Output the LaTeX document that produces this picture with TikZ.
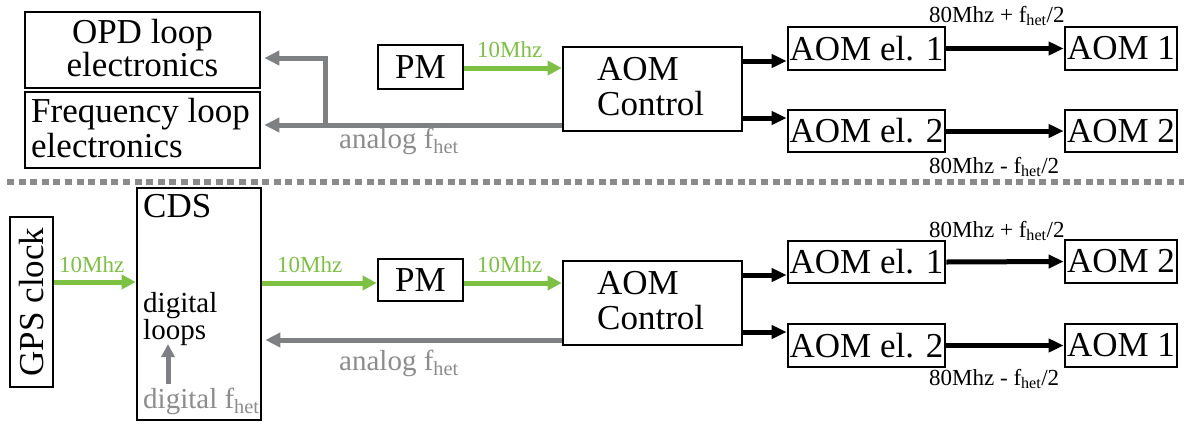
\documentclass[tikz,border=0pt]{standalone}
\usepackage{fontspec}
\setmainfont{Liberation Serif}
\usetikzlibrary{arrows.meta,calc}
\definecolor{agreen}{HTML}{7DC142}
\definecolor{agray}{HTML}{7F8084}
\definecolor{tgray}{HTML}{8C8C8C}
\definecolor{dgray}{HTML}{8A8A8A}
\begin{document}
\begin{tikzpicture}[x=1pt,y=-1pt,
  box/.style={draw=black, line width=2.6pt, inner sep=0pt, font=\fontsize{35}{34}\selectfont},
  big/.style={font=\fontsize{35}{34}\selectfont, inner sep=0pt},
  mid/.style={font=\fontsize{29}{25}\selectfont, inner sep=0pt},
  lbl/.style={font=\fontsize{23}{24}\selectfont, inner sep=0pt},
  garrow/.style={draw=agreen, line width=5pt, -{Triangle[length=14pt,width=14pt]}},
  gyarrow/.style={draw=agray, line width=5pt, -{Triangle[length=15pt,width=14pt]}},
  barrow/.style={draw=black, line width=5pt, -{Triangle[length=15pt,width=13pt]}},
]
\useasboundingbox (0,0) rectangle (1184,424);

% ---------- top half ----------
\node[box, minimum width=235pt, minimum height=76pt] (opd) at (142.5,50) {};
\node[big, anchor=base] (opdt1) at (142.5,43) {OPD loop};
\node[big, anchor=base] (opdt2) at (142.5,76) {electronics};
\node[box, minimum width=235pt, minimum height=76pt] (freq) at (142.5,130) {};
\node[big, anchor=base west] (freqt1) at (31,122) {Frequency loop};
\node[big, anchor=base west] (freqt2) at (31,157) {electronics};

\node[box, minimum width=85pt, minimum height=44pt] (pm1) at (420.5,67) {PM};
\node[box, minimum width=179pt, minimum height=84pt] (aomc1) at (652.5,89) {};
\node[big, anchor=base west] (aomc1a) at (597,80) {AOM};
\node[big, anchor=base west] (aomc1b) at (597,115) {Control};

\node[box, minimum width=157pt, minimum height=43pt] (ae11) at (866.5,48.5) {AOM el. 1};
\node[box, minimum width=157pt, minimum height=42pt] (ae21) at (866.5,131) {AOM el. 2};
\node[box, minimum width=112pt, minimum height=43pt] (aom11) at (1121,48.5) {AOM 1};
\node[box, minimum width=112pt, minimum height=42pt] (aom21) at (1121,131) {AOM 2};

\draw[garrow] (pm1.east |- 0,68) -- (aomc1.west |- 0,68);
\node[lbl, text=agreen, anchor=base west] (l10a) at (477,57) {10Mhz};

\coordinate (b1) at (325,125);
\coordinate (b2) at (325,58);
\draw[gyarrow, shorten >=3pt] (aomc1.west |- b1) -- (freq.east |- b1);
\draw[gyarrow, shorten >=3pt, line join=miter] (b1) -- (b2) -- (opd.east |- b2);
\node[mid, text=tgray, anchor=base west] (an1) at (339,148) {analog f\textsubscript{het}};

\draw[barrow] (aomc1.east |- 0,61) -- (ae11.west |- 0,61);
\draw[barrow] (aomc1.east |- 0,118) -- (ae21.west |- 0,118);
\draw[barrow] (ae11.east) -- (aom11.west);
\draw[barrow] (ae21.east) -- (aom21.west);
\node[lbl, anchor=base west] (fp1) at (929,22) {80Mhz + f\textsubscript{het}/2};
\node[lbl, anchor=base west] (fm1) at (929,173) {80Mhz - f\textsubscript{het}/2};

% ---------- separator ----------
\coordinate (dl) at (7,182);
\coordinate (dr) at (1184,182);
\draw[dgray, line width=6pt, dash pattern=on 7pt off 4.6pt] (dl) -- (dr);

% ---------- bottom half ----------
\node[box, minimum width=43pt, minimum height=170pt] (gps) at (31.5,302) {};
\node[big, rotate=90] (gpst) at (32,302) {GPS clock};
\node[box, minimum width=124pt, minimum height=232pt] (cds) at (199,304) {};
\node[big, anchor=base west] (cdst) at (143,217) {CDS};
\node[mid, align=left, anchor=north west] (dlp) at (143,292) {digital\\loops};
\node[mid, text=tgray, anchor=base west] (df) at (143,408) {digital f\textsubscript{het}};
\coordinate (da) at (168,384);
\coordinate (db) at (168,344);
\draw[gyarrow, -{Triangle[length=13pt,width=13pt]}] (da) -- (db);

\node[box, minimum width=85pt, minimum height=42pt] (pm2) at (420.5,280) {PM};
\node[box, minimum width=179pt, minimum height=84pt] (aomc2) at (652.5,303) {};
\node[big, anchor=base west] (aomc2a) at (597,294) {AOM};
\node[big, anchor=base west] (aomc2b) at (597,329) {Control};

\node[box, minimum width=157pt, minimum height=42pt] (ae12) at (866.5,262) {AOM el. 1};
\node[box, minimum width=157pt, minimum height=43pt] (ae22) at (866.5,345.5) {AOM el. 2};
\node[box, minimum width=112pt, minimum height=43pt] (aom22) at (1121,261.5) {AOM 2};
\node[box, minimum width=112pt, minimum height=43pt] (aom12) at (1121,345.5) {AOM 1};

\draw[garrow] (gps.east |- 0,282) -- (cds.west |- 0,282);
\draw[garrow] (cds.east |- 0,283) -- (pm2.west |- 0,283);
\draw[garrow] (pm2.east |- 0,283) -- (aomc2.west |- 0,283);
\node[lbl, text=agreen, anchor=base west] (l10b) at (59,272) {10Mhz};
\node[lbl, text=agreen, anchor=base west] (l10c) at (277,272) {10Mhz};
\node[lbl, text=agreen, anchor=base west] (l10d) at (477,272) {10Mhz};

\draw[gyarrow, shorten >=3pt] (aomc2.west |- 0,340) -- (cds.east |- 0,340);
\node[mid, text=tgray, anchor=base west] (an2) at (339,370) {analog f\textsubscript{het}};

\draw[barrow] (aomc2.east |- 0,275) -- (ae12.west |- 0,275);
\draw[barrow] (aomc2.east |- 0,332) -- (ae22.west |- 0,332);
\draw[barrow] (ae12.east) -- (aom22.west);
\draw[barrow] (ae22.east) -- (aom12.west);
\node[lbl, anchor=base west] (fp2) at (929,237) {80Mhz + f\textsubscript{het}/2};
\node[lbl, anchor=base west] (fm2) at (929,385) {80Mhz - f\textsubscript{het}/2};
\end{tikzpicture}
\end{document}
